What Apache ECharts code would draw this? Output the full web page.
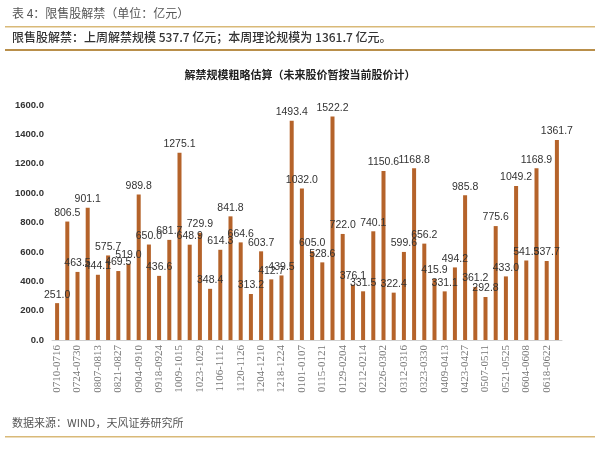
<!DOCTYPE html>
<html><head><meta charset="utf-8">
<script src="https://cdn.jsdelivr.net/npm/echarts@6/dist/echarts.min.js"></script>
<style>html,body{margin:0;padding:0;background:#fff}#c{width:600px;height:458px}</style>
</head><body><div id="c"></div>
<script>
const categories = ["0710-0716","0717-0723","0724-0730","0731-0806","0807-0813","0814-0820","0821-0827","0828-0903","0904-0910","0911-0917","0918-0924","0925-0930","1009-1015","1016-1022","1023-1029","1030-1105","1106-1112","1113-1119","1120-1126","1127-1203","1204-1210","1211-1217","1218-1224","1225-1229","0101-0107","0108-0114","0115-0121","0122-0128","0129-0204","0205-0211","0212-0214","0222-0225","0226-0302","0305-0309","0312-0316","0319-0323","0323-0330","0402-0408","0409-0413","0416-0420","0423-0427","0502-0504","0507-0511","0514-0518","0521-0525","0528-0601","0604-0608","0611-0615","0618-0622","0625-0629"];
const values = [251.0,806.5,463.5,901.1,444.1,575.7,469.5,519.0,989.8,650.0,436.6,681.7,1275.1,648.9,729.9,348.4,614.3,841.8,664.6,313.2,603.7,412.7,439.5,1493.4,1032.0,605.0,528.6,1522.2,722.0,376.1,331.5,740.1,1150.6,322.4,599.6,1168.8,656.2,415.9,331.1,494.2,985.8,361.2,292.8,775.6,433.0,1049.2,541.3,1168.9,537.7,1361.7];
const yTicks = [0,200,400,600,800,1000,1200,1400,1600];
const headerTitle = "表 4：限售股解禁（单位：亿元）";
const summary = "限售股解禁：上周解禁规模 537.7 亿元；本周理论规模为 1361.7 亿元。";
const chartTitle = "解禁规模粗略估算（未来股价暂按当前股价计）";
const source = "数据来源：WIND，天风证券研究所";

const chart = echarts.init(document.getElementById('c'));
chart.setOption({
  backgroundColor: '#fff',
  animation: false,
  title: {
    text: chartTitle, left: 'center', top: 64,
    textStyle: {fontSize: 11, fontWeight: 'bold', color: '#222', fontFamily: 'Noto Sans CJK SC'}
  },
  graphic: [
    {type: 'text', left: 12, top: 7, style: {text: headerTitle, fontSize: 12, fill: '#555', fontFamily: 'Noto Sans CJK SC'}},
    {type: 'rect', shape: {x: 5, y: 26, width: 590, height: 1.5}, style: {fill: '#D9B978'}},
    {type: 'text', left: 12, top: 31, style: {text: summary, fontSize: 12, fontWeight: 500, fill: '#333', fontFamily: 'Noto Sans CJK SC'}},
    {type: 'rect', shape: {x: 5, y: 49, width: 590, height: 2}, style: {fill: '#B98F4A'}},
    {type: 'text', left: 12, top: 417, style: {text: source, fontSize: 11, fill: '#555', fontFamily: 'Noto Sans CJK SC'}},
    {type: 'rect', shape: {x: 5, y: 436, width: 590, height: 1.5}, style: {fill: '#D9B978'}}
  ],
  grid: {left: 52, right: 38, top: 105, bottom: 118},
  xAxis: {
    type: 'category', data: categories,
    axisLine: {lineStyle: {color: '#D0D0D0'}},
    axisTick: {show: false},
    axisLabel: {interval: 1, rotate: 90, fontSize: 11, color: '#777', fontFamily: 'Liberation Serif', margin: 5}
  },
  yAxis: {
    type: 'value', min: yTicks[0], max: yTicks[yTicks.length - 1], interval: 200,
    splitLine: {show: false}, axisLine: {show: false}, axisTick: {show: false},
    axisLabel: {formatter: v => v.toFixed(1), fontSize: 9.5, fontWeight: 'bold', color: '#333', fontFamily: 'Liberation Sans', margin: 8}
  },
  series: [{
    type: 'bar', data: values, barWidth: 4,
    itemStyle: {color: '#B5632A'},
    label: {show: true, position: 'top', distance: 3, formatter: p => p.value.toFixed(1), fontSize: 10.5, color: '#333', fontFamily: 'Liberation Sans'}
  }]
});
</script></body></html>
